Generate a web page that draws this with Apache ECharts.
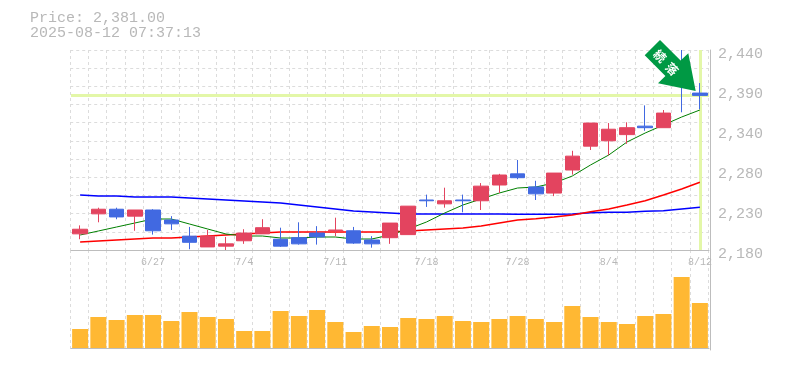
<!DOCTYPE html>
<html><head><meta charset="utf-8">
<style>html,body{margin:0;padding:0;background:#fff}#c{width:785px;height:370px}</style>
<script src="https://cdn.jsdelivr.net/npm/echarts@6/dist/echarts.min.js"></script>
</head><body><div id="c"></div>
<script>
const dates = ['6/23','6/24','6/25','6/26','6/27','6/30','7/1','7/2','7/3','7/4','7/7','7/8','7/9','7/10','7/11','7/14','7/15','7/16','7/17','7/18','7/22','7/23','7/24','7/25','7/28','7/29','7/30','7/31','8/1','8/4','8/5','8/6','8/7','8/8','8/12'];
const open  = [2201,2227,2233,2224,2232,2219,2198,2184,2185,2192,2201,2194,2196,2202,2205,2205,2193,2196,2200,2245,2240,2245,2244,2264.5,2279,2262,2254,2284,2315,2322,2330,2341,2339,2419,2384];
const close = [2207,2233,2223,2232,2205,2214,2190,2198,2188,2202,2209,2185,2188,2197,2206,2189,2188,2215,2237,2244,2244,2244,2263,2277.5,2274,2253,2280,2302,2345,2337,2339,2339,2358,2396,2381];
const low   = [2194,2216,2220,2205,2200,2206,2181,2184,2180,2188,2201,2184,2187,2187,2198,2188,2183,2188,2200,2236,2235,2229,2232,2254,2272,2245,2250,2278,2310,2303,2318,2335,2339,2359,2363];
const high  = [2212,2235,2235,2232,2233,2224,2210,2206,2197,2207,2220,2209,2216,2211,2222,2210,2198,2215,2237,2252,2261,2252,2267,2279,2297,2270,2280,2309,2345,2345,2346,2368,2362,2440,2397];
const maShort = [2199.5,2204.7,2209.9,2215.1,2220.3,2220.3,2213.8,2207.3,2200.8,2198.2,2198.2,2195.6,2195.6,2196.9,2196.9,2194.3,2194.3,2199.5,2207.3,2216.4,2228.1,2238.5,2246.3,2254.1,2260.6,2261.9,2267.1,2276.2,2290.5,2303.5,2320.4,2332.1,2342.5,2352.9,2362];
const maMid = [2190.4,2191.7,2193,2194.3,2195.6,2195.6,2196.9,2198.2,2199.5,2200.8,2202.1,2203.4,2203.4,2203.4,2203.4,2203.4,2203.4,2203.4,2204.7,2206,2207.3,2208.6,2211.2,2215.1,2219,2220.7,2222.9,2225.5,2229.8,2233.3,2238.5,2244.1,2251.5,2259.3,2268];
const maLong = [2251.5,2250.2,2250.2,2248.9,2248.9,2248.9,2247.6,2246.3,2245,2243.7,2242.4,2241.1,2238.5,2235.9,2233.3,2230.7,2229.4,2228.1,2226.8,2226.8,2226.8,2226.8,2226.8,2226.8,2226.4,2226.4,2226.4,2226.8,2228.5,2229,2229,2230.3,2231,2233.3,2235.5];
const volume = [19,31,28,33,33,27,36,31,29,17,17,37,32,38,26,16,22,21,30,29,32,27,26,29,32,29,26,42,31,26,24,32,34,71,45];
const yTickValues = [2180,2232,2284,2336,2388,2440];
const yTickLabels = ['2,180','2,230','2,280','2,340','2,390','2,440'];
const lastPrice = 2381;
const headerLines = ['Price: 2,381.00','2025-08-12 07:37:13'];
const badgeChars = ['続','落'];

const MONO = '"Liberation Mono","DejaVu Sans Mono",monospace';
const GREY = '#b8b8b8', AXIS = '#bdbdbd', DASH = '#dcdcdc', LIME = '#e3f7a8';
const UP = '#e3445f', DOWN = '#4169e1';
const candles = dates.map((d,i)=>[open[i],close[i],low[i],high[i]]);
const dashed = {show:true,interval:0,lineStyle:{color:DASH,type:[3,3],width:1}};
const hiddenX = {show:true,axisLine:{show:false},axisTick:{show:false},axisLabel:{show:false}};
const L=71,G=70.2,W=638;

const chart = echarts.init(document.getElementById('c'),null,{renderer:'canvas'});
chart.setOption({
  animation:false,
  backgroundColor:'#fff',
  grid:[{left:L,top:50,width:W,height:200},{left:L,top:250,width:W,height:100},
        {left:G,top:50,width:W,height:200},{left:G,top:250,width:W,height:100}],
  xAxis:[
    {type:'category',gridIndex:0,data:dates,boundaryGap:true,
     axisLine:{show:true,lineStyle:{color:AXIS,width:1}},axisTick:{show:false},
     axisLabel:{color:GREY,fontFamily:MONO,fontSize:10,margin:7,interval:(i)=>i%5===4},
     splitLine:{show:false}},
    {type:'category',gridIndex:1,data:dates,boundaryGap:true,
     axisLine:{show:true,lineStyle:{color:AXIS,width:1}},axisTick:{show:false},axisLabel:{show:false},
     splitLine:{show:false}},
    {type:'category',gridIndex:2,data:dates,boundaryGap:true,...hiddenX,splitLine:dashed},
    {type:'category',gridIndex:3,data:dates,boundaryGap:true,...hiddenX,splitLine:dashed}
  ],
  yAxis:[
    {type:'value',gridIndex:0,position:'right',offset:1,min:2180,max:2440,
     axisLine:{show:true,lineStyle:{color:AXIS,width:1}},axisTick:{show:false},
     axisLabel:{color:GREY,fontFamily:MONO,fontSize:15,margin:8,verticalAlign:'top',lineHeight:15,padding:[-3,0,0,0],
       customValues:yTickValues,formatter:(v,i)=>yTickLabels[yTickValues.indexOf(v)]},
     splitLine:{show:false}},
    {type:'value',gridIndex:1,position:'right',offset:1,min:-2,max:98,
     axisLine:{show:true,lineStyle:{color:AXIS,width:1}},axisTick:{show:false},axisLabel:{show:false},splitLine:{show:false}},
    {type:'value',gridIndex:2,position:'left',min:0,max:11,interval:1,
     axisLine:{show:false},axisTick:{show:false},axisLabel:{show:false},splitLine:dashed},
    {type:'value',gridIndex:3,position:'left',min:0,max:1,interval:1,
     axisLine:{show:false},axisTick:{show:false},axisLabel:{show:false},splitLine:{show:false}}
  ],
  series:[
    {name:'long',type:'line',xAxisIndex:0,yAxisIndex:0,data:maLong,showSymbol:false,z:3,lineStyle:{color:'#0000ff',width:1.5}},
    {name:'mid',type:'line',xAxisIndex:0,yAxisIndex:0,data:maMid,showSymbol:false,z:3,lineStyle:{color:'#ff0000',width:1.5}},
    {name:'short',type:'line',xAxisIndex:0,yAxisIndex:0,data:maShort,showSymbol:false,z:3,lineStyle:{color:'#008000',width:1}},
    {name:'price',type:'candlestick',xAxisIndex:0,yAxisIndex:0,data:candles,barWidth:15,z:5,clip:false,
     itemStyle:{color:UP,color0:DOWN,borderColor:UP,borderColor0:DOWN,borderWidth:1},
     markLine:{silent:true,symbol:'none',z:1,label:{show:false},animation:false,
       lineStyle:{color:LIME,width:3,type:'solid'},
       data:[{yAxis:lastPrice},{xAxis:dates[dates.length-1]}]}},
    {name:'volume',type:'bar',xAxisIndex:1,yAxisIndex:1,data:volume,barWidth:16,z:3,itemStyle:{color:'#ffb833'}}
  ],
  graphic:[
    {type:'text',left:30,top:11,z:20,style:{text:headerLines[0],fill:GREY,font:'15px '+MONO}},
    {type:'text',left:30,top:26,z:20,style:{text:headerLines[1],fill:GREY,font:'15px '+MONO}},
    {type:'polygon',z:20,shape:{points:[[660,40],[680.6,60.6],[688.3,53.3],[695.7,91],[658,83.3],[665.4,76],[644.7,55.3]]},style:{fill:'#009944'}},
    {type:'text',z:21,x:660,y:56,rotation:-Math.PI/4,
     style:{text:badgeChars[0],fill:'#fff',align:'center',verticalAlign:'middle',font:'bold 12px "Noto Sans CJK JP"'}},
    {type:'text',z:21,x:672,y:69,rotation:-Math.PI/4,
     style:{text:badgeChars[1],fill:'#fff',align:'center',verticalAlign:'middle',font:'bold 12px "Noto Sans CJK JP"'}}
  ]
});
</script></body></html>
